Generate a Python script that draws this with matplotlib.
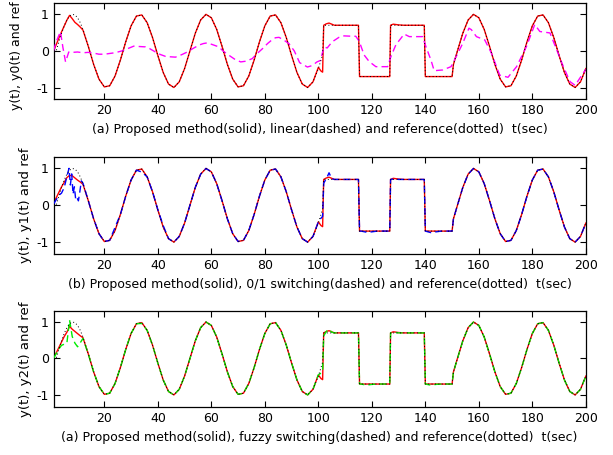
import matplotlib
matplotlib.use("Agg")
import matplotlib.pyplot as plt

plt.rcParams['axes.unicode_minus'] = False
plt.rcParams['font.family'] = ['DejaVu Sans']

# ---------------- data ----------------
# shared time grid after the start-up transient
T_MAIN = [12, 14, 16, 18, 20, 22, 24, 26, 28, 30,
          32, 34, 36, 38, 40, 42, 44, 46, 48, 50,
          52, 54, 56, 58, 60, 62, 64, 66, 68, 70,
          72, 74, 76, 78, 80, 82, 84, 86, 88, 90,
          92, 94, 96, 98, 100,
          101, 101.6, 102, 103, 104, 105, 106, 108, 110, 112, 114, 115,
          115.4, 116, 118, 120, 122, 124, 126, 126.7,
          127, 128, 129, 130, 132, 134, 136, 138, 139.6,
          140, 142, 144, 146, 148, 150, 150.5,
          152, 154, 156, 158, 160, 162, 164, 166, 168, 170,
          172, 174, 176, 178, 180, 182, 184, 186, 188, 190,
          192, 194, 196, 198, 200]

REF_MAIN = [0.588, 0.125, -0.368, -0.771, -0.982, -0.951, -0.685, -0.249, 0.249, 0.685,
            0.951, 0.982, 0.771, 0.368, -0.125, -0.588, -0.905, -0.998, -0.844, -0.482,
            0.0, 0.482, 0.844, 0.998, 0.905, 0.588, 0.125, -0.368, -0.771, -0.982,
            -0.951, -0.685, -0.249, 0.249, 0.685, 0.951, 0.982, 0.771, 0.368, -0.125,
            -0.588, -0.905, -0.998, -0.844, -0.482,
            -0.249, -0.10, 0.70, 0.70, 0.70, 0.70, 0.70, 0.70, 0.70, 0.70, 0.70, 0.70,
            -0.70, -0.70, -0.70, -0.70, -0.70, -0.70, -0.70, -0.70,
            0.70, 0.70, 0.70, 0.70, 0.70, 0.70, 0.70, 0.70, 0.70,
            -0.70, -0.70, -0.70, -0.70, -0.70, -0.70, -0.37,
            0.0, 0.482, 0.844, 0.998, 0.905, 0.588, 0.125, -0.368, -0.771, -0.982,
            -0.951, -0.685, -0.249, 0.249, 0.685, 0.951, 0.982, 0.771, 0.368, -0.125,
            -0.588, -0.905, -0.998, -0.844, -0.482]

Y_MAIN = [0.57, 0.125, -0.368, -0.771, -0.982, -0.951, -0.685, -0.249, 0.249, 0.685,
          0.951, 0.982, 0.771, 0.368, -0.125, -0.588, -0.905, -0.998, -0.844, -0.482,
          0.0, 0.482, 0.844, 0.998, 0.905, 0.588, 0.125, -0.368, -0.771, -0.982,
          -0.951, -0.685, -0.249, 0.249, 0.685, 0.951, 0.982, 0.771, 0.368, -0.125,
          -0.588, -0.905, -0.998, -0.844, -0.45,
          -0.55, -0.58, 0.70, 0.74, 0.76, 0.73, 0.70, 0.70, 0.70, 0.70, 0.70, 0.70,
          -0.70, -0.70, -0.70, -0.70, -0.70, -0.70, -0.70, -0.70,
          0.70, 0.73, 0.72, 0.71, 0.70, 0.70, 0.70, 0.70, 0.70,
          -0.70, -0.70, -0.70, -0.70, -0.70, -0.70, -0.37,
          0.0, 0.482, 0.844, 0.998, 0.905, 0.588, 0.125, -0.368, -0.771, -0.982,
          -0.951, -0.685, -0.249, 0.249, 0.685, 0.951, 0.982, 0.771, 0.368, -0.125,
          -0.588, -0.905, -0.998, -0.844, -0.482]

Y1_MAIN = [0.60, 0.125, -0.368, -0.771, -0.982, -0.951, -0.60, -0.249, 0.249, 0.685,
           0.951, 0.90, 0.771, 0.368, -0.125, -0.55, -0.905, -0.998, -0.844, -0.482,
           0.0, 0.482, 0.844, 0.998, 0.905, 0.588, 0.125, -0.368, -0.771, -0.982,
           -0.951, -0.685, -0.249, 0.249, 0.685, 0.951, 0.982, 0.771, 0.368, -0.125,
           -0.588, -0.905, -0.998, -0.844, -0.45,
           -0.35, -0.30, 0.60, 0.72, 0.88, 0.72, 0.70, 0.70, 0.70, 0.70, 0.70, 0.70,
           -0.70, -0.70, -0.73, -0.72, -0.70, -0.70, -0.70, -0.70,
           0.70, 0.71, 0.72, 0.70, 0.70, 0.70, 0.70, 0.70, 0.70,
           -0.70, -0.74, -0.72, -0.70, -0.70, -0.70, -0.37,
           0.0, 0.482, 0.844, 0.998, 0.905, 0.588, 0.125, -0.368, -0.771, -0.982,
           -0.951, -0.685, -0.249, 0.249, 0.685, 0.951, 0.982, 0.771, 0.368, -0.125,
           -0.588, -0.905, -0.998, -0.844, -0.482]

Y2_MAIN = [0.55, 0.125, -0.368, -0.771, -0.982, -0.951, -0.685, -0.249, 0.249, 0.685,
           0.951, 0.96, 0.771, 0.368, -0.125, -0.588, -0.905, -0.998, -0.844, -0.482,
           0.0, 0.482, 0.844, 0.998, 0.905, 0.588, 0.125, -0.368, -0.771, -0.982,
           -0.951, -0.685, -0.249, 0.249, 0.685, 0.951, 0.982, 0.771, 0.368, -0.125,
           -0.588, -0.905, -0.998, -0.844, -0.45,
           -0.40, -0.35, 0.62, 0.74, 0.80, 0.72, 0.70, 0.70, 0.70, 0.70, 0.70, 0.70,
           -0.70, -0.70, -0.73, -0.71, -0.70, -0.70, -0.70, -0.70,
           0.70, 0.70, 0.71, 0.70, 0.70, 0.70, 0.70, 0.70, 0.70,
           -0.70, -0.73, -0.71, -0.70, -0.70, -0.70, -0.37,
           0.0, 0.482, 0.844, 0.998, 0.905, 0.588, 0.125, -0.368, -0.771, -0.982,
           -0.951, -0.685, -0.249, 0.249, 0.685, 0.951, 0.982, 0.771, 0.368, -0.125,
           -0.588, -0.905, -0.998, -0.844, -0.482]

# start-up transient (t = 1 .. 11)
T_EARLY = [1, 2, 3, 4, 5, 6, 7, 8, 9, 10, 11]
REF_EARLY = [0.0, 0.0, 0.249, 0.482, 0.685, 0.844, 0.951, 0.998, 0.982, 0.905, 0.771]
Y_EARLY_A = [0.0, 0.17, 0.35, 0.52, 0.68, 0.84, 0.97, 0.88, 0.78, 0.72, 0.65]
Y_EARLY_B = [0.05, 0.20, 0.35, 0.50, 0.62, 0.75, 0.81, 0.80, 0.74, 0.68, 0.63]
Y_EARLY_C = [0.03, 0.15, 0.30, 0.45, 0.60, 0.72, 0.88, 0.80, 0.74, 0.68, 0.62]
Y2_EARLY = [0.0, 0.13, 0.26, 0.36, 0.39, 0.42, 1.05, 0.60, 0.42, 0.32, 0.43]
Y1_EARLY_T = [1, 2, 3, 4, 5, 6, 6.8, 7.3, 7.8, 8.3, 8.8, 9.3, 9.8, 10.3, 10.8, 11.4]
Y1_EARLY = [0.03, 0.15, 0.27, 0.33, 0.48, 0.78, 1.0, 0.55, 0.85, 0.30, 0.50, 0.15,
            0.20, 0.12, 0.35, 0.66]

# linear controller output y0 (magenta, panel a)
Y0_T = [1, 2, 3.6, 4.5, 5.5, 6.7, 8, 10, 12, 14, 16, 18, 20, 22, 24, 26.6, 29, 31, 33,
        35.4, 37, 39.1, 41, 42.9, 44.5, 46.6, 49, 51, 53, 55.4, 57, 58.5, 60.5, 62.8,
        64.5, 66.6, 69, 71, 73, 75.3, 77, 79.1, 81, 82.8, 84, 85.3, 87, 89, 91, 93,
        94.5, 95.9, 97.7, 99.5, 100.8, 102.1, 103.3, 105.2, 107.7, 109.6, 112.7, 114,
        115.3, 117.1, 119, 121.5, 125.9, 127.1, 129, 132.1, 134, 139, 140.2, 142.1,
        143.3, 146.5, 149.6, 151.5, 154, 156.3, 157.2, 159.1, 162.2, 164.7, 167.8,
        170.9, 174.1, 177.8, 180.9, 182.8, 186.6, 189.1, 191.6, 194.1, 196, 198.5, 200]
Y0_V = [0.0, 0.25, 0.53, 0.10, -0.30, -0.03, -0.04, -0.03, -0.05, -0.04, -0.06, -0.09,
        -0.09, -0.07, -0.05, 0.0, 0.07, 0.13, 0.12, 0.11, 0.06, -0.03, -0.10, -0.15,
        -0.16, -0.17, -0.10, -0.03, 0.06, 0.16, 0.20, 0.22, 0.17, 0.11, -0.01, -0.12,
        -0.24, -0.30, -0.28, -0.21, -0.08, 0.06, 0.20, 0.31, 0.36, 0.37, 0.30, 0.20,
        0.0, -0.32, -0.38, -0.44, -0.40, -0.30, -0.26, 0.11, 0.08, 0.25, 0.37, 0.41,
        0.40, 0.40, 0.26, -0.11, -0.29, -0.43, -0.43, -0.16, 0.17, 0.46, 0.39, 0.39,
        0.12, -0.25, -0.54, -0.52, -0.43, -0.16, 0.21, 0.62, 0.58, 0.39, 0.30, -0.06,
        -0.66, -0.72, -0.43, 0.12, 0.72, 0.53, 0.49, 0.03, -0.43, -0.84, -0.94, -0.66,
        -0.50]

XTICKS = [20, 40, 60, 80, 100, 120, 140, 160, 180, 200]
YTICKS = [-1, 0, 1]
YLABELS = ["y(t), y0(t) and ref", "y(t), y1(t) and ref", "y(t), y2(t) and ref"]
XLABELS = ["(a) Proposed method(solid), linear(dashed) and reference(dotted)  t(sec)",
           "(b) Proposed method(solid), 0/1 switching(dashed) and reference(dotted)  t(sec)",
           "(a) Proposed method(solid), fuzzy switching(dashed) and reference(dotted)  t(sec)"]

assert len(T_MAIN) == len(REF_MAIN) == len(Y_MAIN) == len(Y1_MAIN) == len(Y2_MAIN)
assert len(Y0_T) == len(Y0_V)
assert len(Y1_EARLY_T) == len(Y1_EARLY)

# ---------------- figure ----------------
fig = plt.figure(figsize=(6.13, 4.55), dpi=100)
positions = [(0.0873, 0.7818, 0.8684, 0.2110),
             (0.0873, 0.4418, 0.8684, 0.2125),
             (0.0873, 0.1062, 0.8684, 0.2103)]

ref_t = T_EARLY + T_MAIN
ref_v = REF_EARLY + REF_MAIN
red_series = [Y_EARLY_A + Y_MAIN, Y_EARLY_B + Y_MAIN, Y_EARLY_C + Y_MAIN]
other = [(Y0_T, Y0_V, '#ff00ff'),
         (Y1_EARLY_T + T_MAIN, Y1_EARLY + Y1_MAIN, '#0000ff'),
         (T_EARLY + T_MAIN, Y2_EARLY + Y2_MAIN, '#00ee00')]

for i, pos in enumerate(positions):
    ax = fig.add_axes(pos)
    ax.plot(ref_t, red_series[i], color='#ff0000', lw=1.0, zorder=2)
    ot, ov, oc = other[i]
    ax.plot(ot, ov, color=oc, lw=1.0, dashes=(5, 3), zorder=3)
    ax.plot(ref_t, ref_v, color='black', lw=0.7, linestyle=(0, (1, 2.5)), zorder=4)
    ax.set_xlim(1, 200)
    ax.set_ylim(-1.32, 1.30)
    ax.set_xticks(XTICKS)
    ax.set_yticks(YTICKS)
    ax.tick_params(direction='in', top=True, right=True, length=4, width=0.8,
                   labelsize=9, pad=3.5)
    for s in ax.spines.values():
        s.set_linewidth(0.9)
    ax.set_xlabel(XLABELS[i], fontsize=9, labelpad=4.5)
    if i == 0:
        # top panel: keep the rotated label inside the figure
        ax.set_ylabel(YLABELS[i], fontsize=9, labelpad=3)
        ax.yaxis.set_label_coords(-0.058, 0.45)
    else:
        ax.set_ylabel(YLABELS[i], fontsize=9.5, labelpad=3)

fig.savefig("out.png", dpi=100)
